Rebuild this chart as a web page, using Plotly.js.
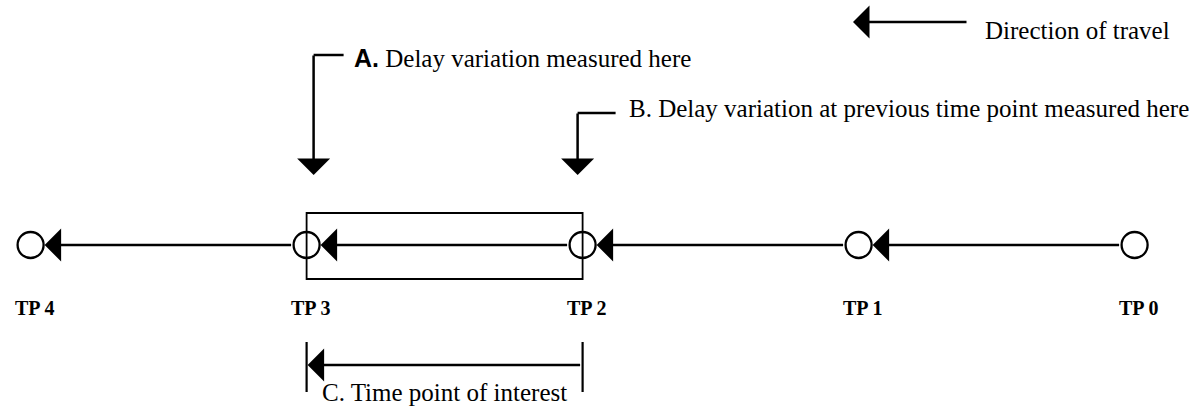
<!DOCTYPE html>
<html>
<head>
<meta charset="utf-8">
<script src="https://cdn.plot.ly/plotly-3.0.1.min.js"></script>
<style>html,body{margin:0;padding:0;background:#fff;}#chart{width:1203px;height:407px;}</style>
</head>
<body>
<div id="chart"></div>
<script>
// ---- diagram content ----
const tpLabels = ['TP 4', 'TP 3', 'TP 2', 'TP 1', 'TP 0'];
const tpIndex = [4, 3, 2, 1, 0];
const intervalStart = 3;   // TP 3 (time point of interest starts)
const intervalEnd = 2;     // TP 2
const textDirection = 'Direction of travel';
const textA = 'Delay variation measured here';
const labelA = 'A.';
const textB = 'B. Delay variation at previous time point measured here';
const textC = 'C. Time point of interest';

// ---- geometry helpers (layout only) ----
const W = 1203, H = 407;
const PX_PER_TP = 276, LEFT_PX = 30.6;      // pixel position of TP 4
const px2x = p => 4 - (p - LEFT_PX) / PX_PER_TP;
const x2px = x => LEFT_PX + (4 - x) * PX_PER_TP;
const shiftX = (x, dpx) => px2x(x2px(x) + dpx);
const R = 13;               // circle radius in px
const LINE_Y = 245, LABEL_Y = 308;
const serif = 'Liberation Serif, Times New Roman, serif';
const ink = '#000';
const AW = 2.5, AS = 2.2;   // arrow line width, arrow head size

const traces = [{
  type: 'scatter', mode: 'markers',
  x: tpIndex, y: tpIndex.map(() => LINE_Y),
  marker: {symbol: 'circle', size: 2 * R, color: '#fff', line: {color: ink, width: 2.3}},
  hoverinfo: 'skip', cliponaxis: false
}];

const annotations = [];
const shapes = [];

// main travel line: arrows from each TP to the next one on the left
for (let i = 0; i < tpIndex.length - 1; i++) {
  const head = tpIndex[i], tail = tpIndex[i + 1];
  annotations.push({
    x: head, y: LINE_Y, ax: tail, ay: LINE_Y, xref: 'x', yref: 'y', axref: 'x', ayref: 'y',
    text: '', showarrow: true, arrowhead: 1, arrowsize: AS, arrowwidth: AW, arrowcolor: ink,
    standoff: R + 1, startstandoff: R + 1
  });
}
// TP labels
tpIndex.forEach((k, i) => {
  annotations.push({
    x: k, y: LABEL_Y, xref: 'x', yref: 'y', xshift: 4, showarrow: false,
    text: '<b>' + tpLabels[i] + '</b>', font: {family: serif, size: 20, color: ink},
    xanchor: 'center', yanchor: 'middle'
  });
});

// box around time point of interest
shapes.push({type: 'rect', xref: 'x', yref: 'y', x0: intervalStart, x1: intervalEnd, y0: 213, y1: 279,
  line: {color: ink, width: 1.8}, layer: 'above'});

// direction of travel arrow + text
annotations.push({x: px2x(853), y: 22, ax: px2x(968), ay: 22, xref: 'x', yref: 'y', axref: 'x', ayref: 'y',
  text: '', showarrow: true, arrowhead: 1, arrowsize: AS, arrowwidth: AW, arrowcolor: ink});
annotations.push({x: px2x(983), y: 30, xref: 'x', yref: 'y', showarrow: false, xanchor: 'left', yanchor: 'middle',
  text: textDirection, font: {family: serif, size: 25, color: ink}});

// A callout
const xA = shiftX(intervalStart, 7);
shapes.push({type: 'line', xref: 'x', yref: 'y', x0: xA, x1: shiftX(intervalStart, 37), y0: 55, y1: 55,
  line: {color: ink, width: 2.5}});
annotations.push({x: xA, y: 175, ax: xA, ay: 54, xref: 'x', yref: 'y', axref: 'x', ayref: 'y',
  text: '', showarrow: true, arrowhead: 1, arrowsize: AS, arrowwidth: AW, arrowcolor: ink});
annotations.push({x: shiftX(intervalStart, 45), y: 58, xref: 'x', yref: 'y', showarrow: false, xanchor: 'left', yanchor: 'middle',
  text: '<b><span style="font-family:Liberation Sans, Arial, sans-serif">' + labelA + '</span></b> ' + textA,
  font: {family: serif, size: 25, color: ink}});

// B callout
const xB = shiftX(intervalEnd, -5);
shapes.push({type: 'line', xref: 'x', yref: 'y', x0: xB, x1: shiftX(intervalEnd, 33), y0: 113, y1: 113,
  line: {color: ink, width: 2.5}});
annotations.push({x: xB, y: 175, ax: xB, ay: 112, xref: 'x', yref: 'y', axref: 'x', ayref: 'y',
  text: '', showarrow: true, arrowhead: 1, arrowsize: AS, arrowwidth: AW, arrowcolor: ink});
annotations.push({x: shiftX(intervalEnd, 44), y: 108, xref: 'x', yref: 'y', showarrow: false, xanchor: 'left', yanchor: 'middle',
  text: textB, font: {family: serif, size: 25, color: ink}});

// C bracket
[intervalStart, intervalEnd].forEach(k => {
  shapes.push({type: 'line', xref: 'x', yref: 'y', x0: k, x1: k, y0: 342, y1: 392, line: {color: ink, width: 2.2}});
});
annotations.push({x: shiftX(intervalStart, 1), y: 365, ax: shiftX(intervalEnd, -1), ay: 365,
  xref: 'x', yref: 'y', axref: 'x', ayref: 'y',
  text: '', showarrow: true, arrowhead: 1, arrowsize: AS, arrowwidth: AW, arrowcolor: ink});
annotations.push({x: shiftX(intervalStart, 13), y: 392, xref: 'x', yref: 'y', showarrow: false, xanchor: 'left', yanchor: 'middle',
  text: textC, font: {family: serif, size: 25, color: ink}});

const layout = {
  width: W, height: H,
  margin: {l: 0, r: 0, t: 0, b: 0},
  paper_bgcolor: '#fff', plot_bgcolor: '#fff',
  showlegend: false,
  xaxis: {range: [px2x(0), px2x(W)], visible: false, fixedrange: true},
  yaxis: {range: [H, 0], visible: false, fixedrange: true},
  annotations: annotations, shapes: shapes
};

Plotly.newPlot('chart', traces, layout, {staticPlot: true, displayModeBar: false});
</script>
</body>
</html>
